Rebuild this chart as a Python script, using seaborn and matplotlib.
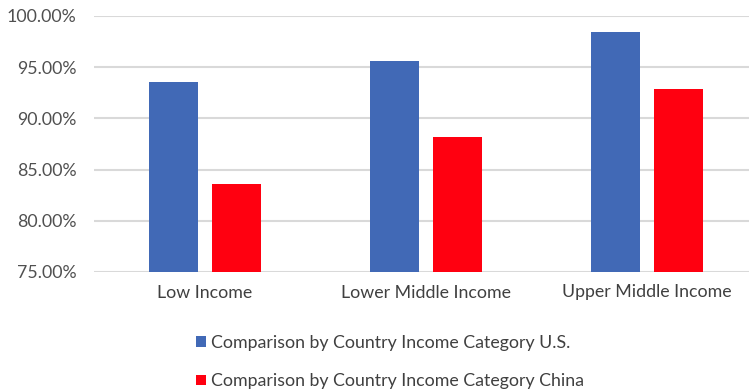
import matplotlib
matplotlib.use("Agg")
import matplotlib.pyplot as plt
import seaborn as sns
import pandas as pd
from matplotlib.ticker import PercentFormatter

categories = ["Low Income", "Lower Middle Income", "Upper Middle Income"]
series_names = ["Comparison by Country Income Category U.S.",
                "Comparison by Country Income Category China"]
us_values = [93.6, 95.6, 98.4]
china_values = [83.6, 88.2, 92.9]
colors = ["#4169B6", "#FF0010"]

df = pd.DataFrame({
    "category": categories * 2,
    "series": [series_names[0]] * 3 + [series_names[1]] * 3,
    "value": us_values + china_values,
})

sns.set_theme(style="white")
plt.rcParams["font.family"] = ["Lato", "DejaVu Sans"]

W, H = 749, 390
fig = plt.figure(figsize=(W / 100, H / 100), dpi=100)
ax = fig.add_axes([94.5 / W, (H - 272) / H, (757.5 - 94.5) / W, 256 / H])

sns.barplot(data=df, x="category", y="value", hue="series",
            palette=colors, saturation=1, width=0.566, gap=0.215, ax=ax,
            edgecolor="none", linewidth=0, legend=True, zorder=3)

ax.set_ylim(75, 100)
ax.set_yticks([75, 80, 85, 90, 95, 100])
ax.yaxis.set_major_formatter(PercentFormatter(decimals=2))
ax.grid(axis="y", color="#d9d9d9", linewidth=1.5, zorder=0)
ax.set_axisbelow(True)
for s in ax.spines.values():
    s.set_visible(False)
ax.set_xlabel("")
ax.set_ylabel("")
fs = 12.8
ax.tick_params(axis="y", labelsize=fs, labelcolor="#505050", length=0, pad=13)
ax.tick_params(axis="x", labelsize=fs, labelcolor="#404040", length=0, pad=9)

handles, labels = ax.get_legend_handles_labels()
ax.get_legend().remove()
fig.legend(handles, labels, loc="upper left", bbox_to_anchor=(196 / W, 1 - 335 / H),
           frameon=False, fontsize=fs, handlelength=0.55, handleheight=0.55,
           handletextpad=0.3, labelspacing=1.25, borderpad=0, borderaxespad=0,
           labelcolor="#404040")

fig.savefig("out.png", dpi=100)
